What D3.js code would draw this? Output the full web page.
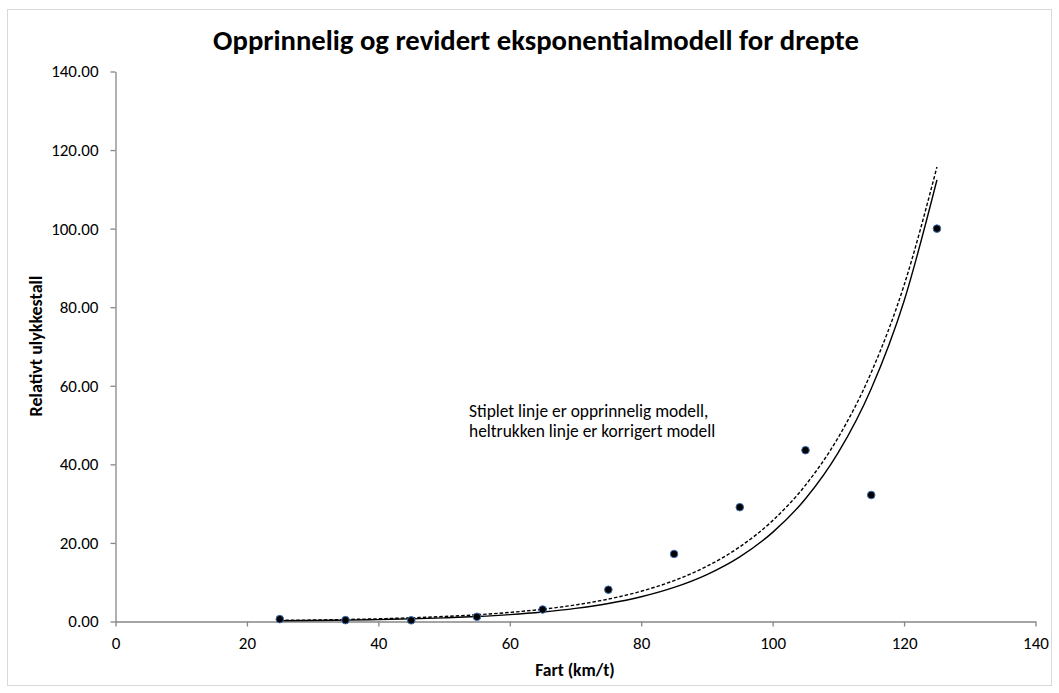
<!DOCTYPE html>
<html>
<head>
<meta charset="utf-8">
<script src="https://cdn.jsdelivr.net/npm/d3@7"></script>
<style>
  html, body { margin: 0; padding: 0; background: #fff; }
  svg { display: block; font-family: Carlito, Lato, "Open Sans", sans-serif; }
</style>
</head>
<body>
<svg id="chart" width="1059" height="693"></svg>
<script>
// ---- data ----
const title = "Opprinnelig og revidert eksponentialmodell for drepte";
const xLabel = "Fart (km/t)";
const yLabel = "Relativt ulykkestall";
const noteLines = ["Stiplet linje er opprinnelig modell,", "heltrukken linje er korrigert modell"];

const speeds = [25, 35, 45, 55, 65, 75, 85, 95, 105, 115, 125];
const observed = [0.6, 0.35, 0.3, 1.2, 3.05, 8.1, 17.2, 29.1, 43.6, 32.2, 100.0];

const curveSpeeds = [25, 30, 35, 40, 45, 50, 55, 60, 65, 70, 75, 80, 85, 90, 95, 100, 105, 110, 115, 120, 125];
const originalModel = [0.28, 0.38, 0.51, 0.69, 0.94, 1.27, 1.71, 2.31, 3.12, 4.22, 5.70, 7.71, 10.41, 14.07, 19.01, 25.68, 34.71, 46.90, 63.37, 85.6, 115.7];
const revisedModel = [0.19, 0.26, 0.35, 0.49, 0.67, 0.93, 1.27, 1.75, 2.42, 3.33, 4.58, 6.31, 8.69, 11.96, 16.47, 22.69, 31.24, 43.03, 59.26, 81.6, 112.4];

const xTicks = [0, 20, 40, 60, 80, 100, 120, 140];
const yTicks = [0, 20, 40, 60, 80, 100, 120, 140];

// ---- layout ----
const svg = d3.select("#chart");
const plotLeft = 115.5, plotRight = 1035.5, plotTop = 71.5, plotBottom = 621.5;

svg.append("rect").attr("x", 7.5).attr("y", 9.5).attr("width", 1044).attr("height", 676)
  .attr("fill", "#fff").attr("stroke", "#d9d9d9").attr("stroke-width", 1);

const x = d3.scaleLinear().domain([0, 140]).range([plotLeft, plotRight]);
const y = d3.scaleLinear().domain([0, 140]).range([plotBottom, plotTop]);

const axisColor = "#868686";
const tickFont = 17;

const xAxis = svg.append("g").attr("transform", `translate(0,${plotBottom})`)
  .call(d3.axisBottom(x).tickValues(xTicks).tickSize(5).tickSizeOuter(0).tickPadding(10));
const yAxis = svg.append("g").attr("transform", `translate(${plotLeft},0)`)
  .call(d3.axisLeft(y).tickValues(yTicks).tickSize(5).tickSizeOuter(0).tickPadding(12).tickFormat(d3.format(".2f")));

[xAxis, yAxis].forEach(g => {
  g.select(".domain").attr("stroke", axisColor).attr("stroke-width", 1.3);
  g.selectAll(".tick line").attr("stroke", axisColor).attr("stroke-width", 1.3);
  g.selectAll(".tick text").attr("fill", "#000").style("font-size", tickFont + "px")
    .style("font-family", "Carlito, Lato, 'Open Sans', sans-serif");
});

// title
svg.append("text").attr("x", 536).attr("y", 50).attr("text-anchor", "middle")
  .style("font-size", "28.7px").style("font-weight", "bold").text(title);

// axis labels
svg.append("text").attr("x", 575).attr("y", 676).attr("text-anchor", "middle")
  .style("font-size", "17.5px").style("font-weight", "bold").text(xLabel);
svg.append("text").attr("transform", `translate(42,346) rotate(-90)`).attr("text-anchor", "middle")
  .style("font-size", "18px").style("font-weight", "bold").text(yLabel);

// note
const note = svg.append("text").attr("x", 469).attr("y", 417).style("font-size", "17.4px");
noteLines.forEach((t, i) => note.append("tspan").attr("x", 469).attr("dy", i === 0 ? 0 : 20).text(t));

// model curves
const line = d3.line().x(d => x(d[0])).y(d => y(d[1])).curve(d3.curveMonotoneX);
svg.append("path").datum(curveSpeeds.map((s, i) => [s, revisedModel[i]]))
  .attr("d", line).attr("fill", "none").attr("stroke", "#000").attr("stroke-width", 1.4);
svg.append("path").datum(curveSpeeds.map((s, i) => [s, originalModel[i]]))
  .attr("d", line).attr("fill", "none").attr("stroke", "#000").attr("stroke-width", 1.4)
  .attr("stroke-dasharray", "3.5,2");

// points
svg.append("g").selectAll("circle").data(speeds.map((s, i) => [s, observed[i]])).join("circle")
  .attr("cx", d => x(d[0])).attr("cy", d => y(d[1])).attr("r", 3.8)
  .attr("fill", "#000").attr("stroke", "#3f6fb0").attr("stroke-width", 1);
</script>
</body>
</html>
